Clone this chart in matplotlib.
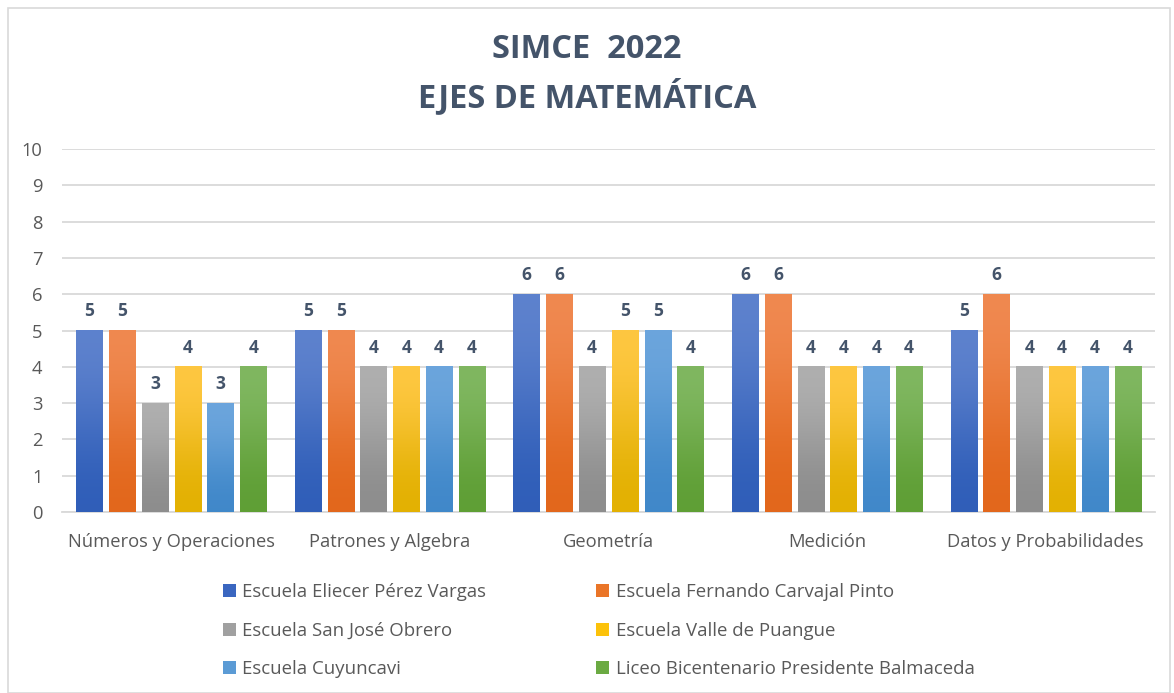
import numpy as np
import matplotlib.pyplot as plt
from matplotlib.colors import to_rgb
from matplotlib.patches import Rectangle

CATEGORIES = ["Números y Operaciones", "Patrones y Algebra", "Geometría",
              "Medición", "Datos y Probabilidades"]
SCHOOLS = [
    "Escuela Eliecer Pérez Vargas",
    "Escuela Fernando Carvajal Pinto",
    "Escuela San José Obrero",
    "Escuela Valle de Puangue",
    "Escuela Cuyuncavi",
    "Liceo Bicentenario Presidente Balmaceda",
]
ELIECER = [5, 5, 6, 6, 5]
CARVAJAL = [5, 5, 6, 6, 6]
SAN_JOSE = [3, 4, 4, 4, 4]
PUANGUE = [4, 4, 5, 4, 4]
CUYUNCAVI = [3, 4, 5, 4, 4]
BALMACEDA = [4, 4, 4, 4, 4]
SERIES = [ELIECER, CARVAJAL, SAN_JOSE, PUANGUE, CUYUNCAVI, BALMACEDA]
Y_TICKS = list(range(0, 11))

# (top, bottom) gradient colours per series
COLORS = [
    ("#5F83CE", "#2E5DB8"),
    ("#F08A52", "#E2661A"),
    ("#B0B0B0", "#8C8C8C"),
    ("#FFC843", "#E2B000"),
    ("#6DA6DD", "#3F87C9"),
    ("#81B862", "#5E9E34"),
]
LEGEND_COLORS = ["#3A66C0", "#EA7528", "#A0A0A0", "#FCC20A", "#5B9BD5", "#6BAA42"]

TEXT = "#595959"
TITLE = "#44546A"

plt.rcParams["font.family"] = ["Open Sans", "DejaVu Sans"]

fig = plt.figure(figsize=(11.74, 6.93), dpi=100)
ax = fig.add_axes([62 / 1174, 1 - 512 / 693, (1155 - 62) / 1174, (512 - 149) / 693])

x = np.arange(len(CATEGORIES))
step = 0.15
width = 0.12
handles = []
for i, (vals, (c_top, c_bot)) in enumerate(zip(SERIES, COLORS)):
    offs = (i - 2.5) * step
    bars = ax.bar(x + offs, vals, width=width, color=LEGEND_COLORS[i],
                  label=SCHOOLS[i], zorder=2)
    handles.append(bars)
    grad = np.array([to_rgb(c_top), to_rgb(c_bot)])[:, None, :]
    for b, v in zip(bars, vals):
        x0 = b.get_x()
        ax.imshow(grad, extent=(x0, x0 + width, 0, v), aspect="auto",
                  interpolation="bicubic", zorder=3)
        ax.text(x0 + width / 2, v + 0.28, str(v), ha="center", va="bottom",
                fontsize=12.5, fontweight="bold", color=TITLE, zorder=4)

ax.set_xlim(-0.5, len(CATEGORIES) - 0.5)
ax.set_ylim(0, 10)
ax.set_yticks(Y_TICKS)
ax.set_xticks(x)
ax.set_xticklabels(CATEGORIES)
ax.tick_params(axis="both", length=0, labelsize=13.2, colors=TEXT)
ax.tick_params(axis="x", pad=15)
ax.tick_params(axis="y", pad=14)
ax.grid(axis="y", color="#D9D9D9", linewidth=1.3, zorder=0)
for s in ["top", "right", "left"]:
    ax.spines[s].set_visible(False)
ax.spines["bottom"].set_color("#D9D9D9")
ax.spines["bottom"].set_linewidth(1.3)

fig.text(0.5, 1 - 50 / 693, "SIMCE  2022", ha="center", va="center",
         fontsize=23.5, fontweight="bold", color=TITLE)
fig.text(0.5, 1 - 97 / 693, "EJES DE MATEMÁTICA", ha="center", va="center",
         fontsize=23.5, fontweight="bold", color=TITLE)

# row-major order for a 2-column legend
order = [0, 2, 4, 1, 3, 5]
leg = fig.legend(handles=[handles[k] for k in order],
                 labels=[SCHOOLS[k] for k in order], ncol=2, loc="upper left",
                 bbox_to_anchor=(206 / 1174, 1 - 566 / 693), frameon=False,
                 fontsize=13.4, handlelength=0.7, handleheight=0.7,
                 handletextpad=0.35, columnspacing=5.9, labelspacing=1.12)
for t in leg.get_texts():
    t.set_color(TEXT)

fig.patches.append(Rectangle((8 / 1174, 0), 1 - 12 / 1174, 1 - 8 / 693,
                             transform=fig.transFigure, fill=False,
                             edgecolor="#D9D9D9", linewidth=1.2))

fig.savefig("out.png", dpi=100, facecolor="white")
